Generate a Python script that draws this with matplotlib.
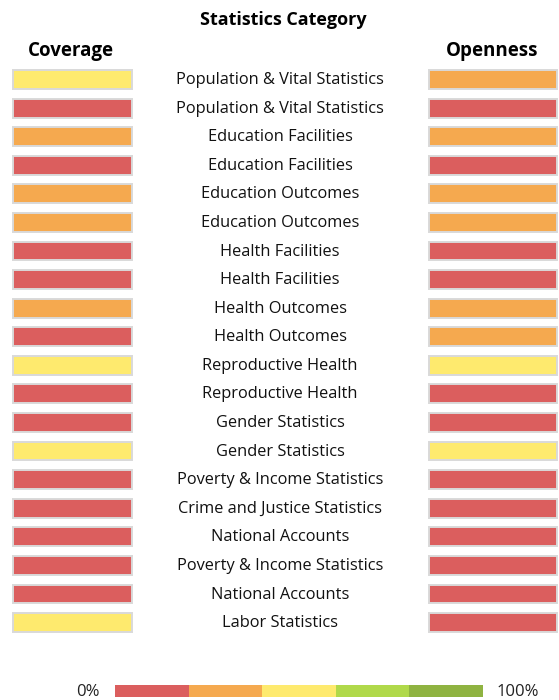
import numpy as np
import matplotlib.pyplot as plt

plt.rcParams['font.family'] = ['Open Sans', 'DejaVu Sans']

categories = [
    "Population & Vital Statistics", "Population & Vital Statistics",
    "Education Facilities", "Education Facilities",
    "Education Outcomes", "Education Outcomes",
    "Health Facilities", "Health Facilities",
    "Health Outcomes", "Health Outcomes",
    "Reproductive Health", "Reproductive Health",
    "Gender Statistics", "Gender Statistics",
    "Poverty & Income Statistics", "Crime and Justice Statistics",
    "National Accounts", "Poverty & Income Statistics",
    "National Accounts", "Labor Statistics",
]
# score level 0..4 (0% .. 100%)
coverage = [2, 0, 1, 0, 1, 1, 0, 0, 1, 0, 2, 0, 0, 2, 0, 0, 0, 0, 0, 2]
openness = [1, 0, 1, 0, 1, 1, 0, 0, 1, 1, 2, 0, 0, 2, 0, 0, 0, 0, 0, 0]
level_colors = ['#db5e5e', '#f5a94f', '#feea6e', '#b0d94a', '#8fb341']
legend_levels = [0, 1, 2, 3, 4]

fig = plt.figure(figsize=(5.59, 7.0), dpi=100)
ax = fig.add_axes([0, 0, 1, 1])
row = 28.58
top = 79.5
ax.set_xlim(0, 559)
ax.set_ylim((700 - top) / row, -top / row)
ax.axis('off')

y = np.arange(len(categories))
h = 0.66
ax.barh(y, 119, left=12.5, height=h, color=[level_colors[v] for v in coverage],
        edgecolor='#d9d9d9', linewidth=1.4)
ax.barh(y, 128.5, left=428.5, height=h, color=[level_colors[v] for v in openness],
        edgecolor='#d9d9d9', linewidth=1.4)
for i, c in enumerate(categories):
    ax.text(280, i + 0.02, c, ha='center', va='center', fontsize=11.8, color='#111111')

ax.text(283, (20 - top) / row, 'Statistics Category', ha='center', va='center',
        fontsize=13, fontweight='bold')
ax.text(71, (51 - top) / row, 'Coverage', ha='center', va='center',
        fontsize=13.5, fontweight='bold')
ax.text(492, (51 - top) / row, 'Openness', ha='center', va='center',
        fontsize=13.5, fontweight='bold')

# legend strip
ly = (691 - top) / row
seg = (483 - 115) / 5
ax.barh([ly] * 5, seg, left=[115 + seg * v for v in legend_levels], height=12 / row,
        color=level_colors, linewidth=0)
ax.text(100, ly + 0.05, '0%', ha='right', va='center', fontsize=12, color='#222222')
ax.text(497, ly + 0.05, '100%', ha='left', va='center', fontsize=12, color='#222222')

fig.savefig('out.png', dpi=100)
